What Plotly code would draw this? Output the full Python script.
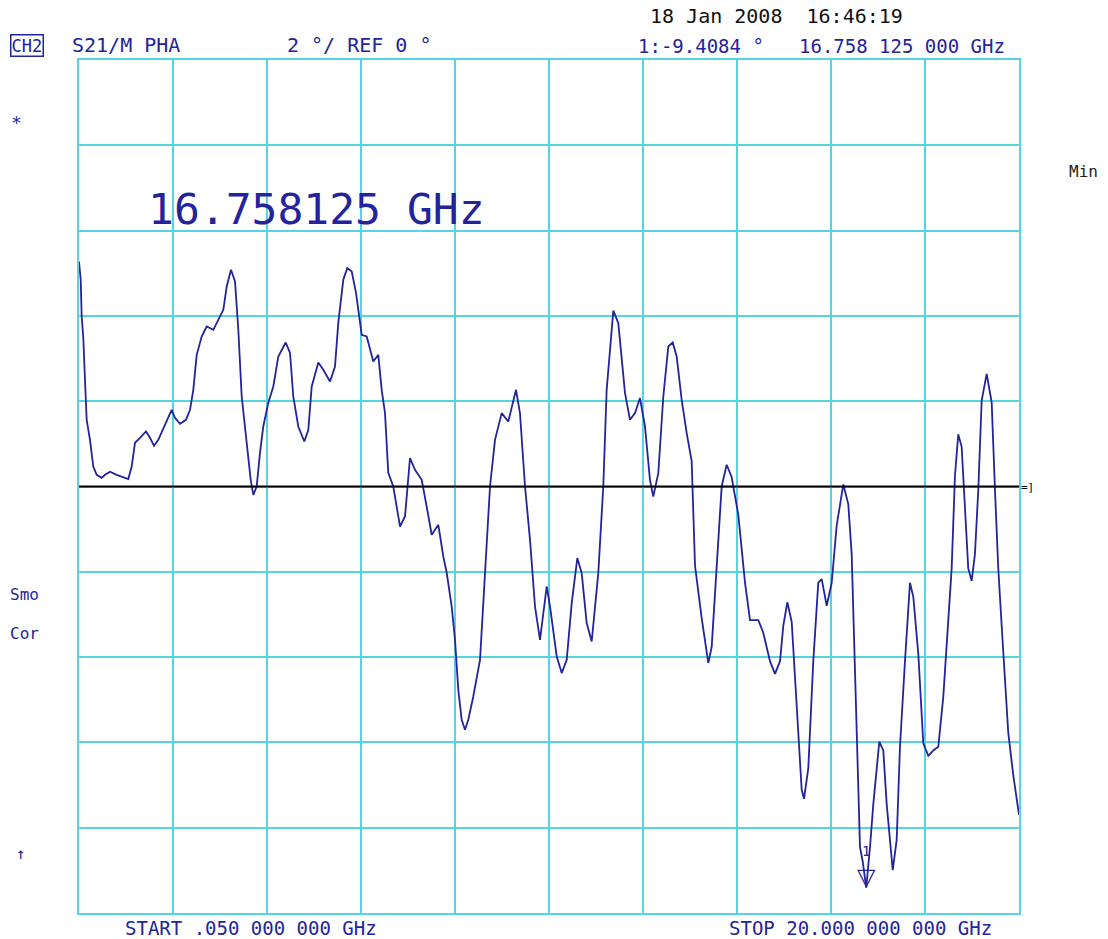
import plotly.graph_objects as go

# ---- data ----
freq_ghz = [0.050, 0.086, 0.107, 0.141, 0.177, 0.213, 0.283, 0.353, 0.426, 0.532,
            0.602, 0.708, 0.850, 0.956, 1.096, 1.168, 1.238, 1.345, 1.472, 1.557,
            1.642, 1.733, 1.875, 2.017, 2.087, 2.194, 2.321, 2.406, 2.476, 2.548,
            2.654, 2.760, 2.900, 3.006, 3.113, 3.185, 3.276, 3.361, 3.431, 3.503,
            3.609, 3.694, 3.749, 3.821, 3.891, 3.961, 4.068, 4.174, 4.280, 4.437,
            4.528, 4.598, 4.704, 4.832, 4.917, 4.989, 5.129, 5.235, 5.377, 5.483,
            5.553, 5.659, 5.744, 5.838, 5.929, 6.050, 6.156, 6.296, 6.402, 6.474,
            6.544, 6.614, 6.720, 6.863, 6.969, 7.075, 7.181, 7.323, 7.429, 7.535,
            7.676, 7.782, 7.854, 7.960, 8.030, 8.100, 8.172, 8.242, 8.312, 8.418,
            8.561, 8.667, 8.773, 8.879, 9.021, 9.161, 9.267, 9.325, 9.409, 9.516,
            9.622, 9.728, 9.834, 9.976, 10.047, 10.189, 10.295, 10.401, 10.507, 10.626,
            10.719, 10.825, 10.931, 11.071, 11.177, 11.249, 11.390, 11.496, 11.638, 11.744,
            11.850, 11.956, 12.062, 12.168, 12.238, 12.345, 12.451, 12.557, 12.650, 12.735,
            12.841, 12.947, 13.053, 13.124, 13.266, 13.406, 13.478, 13.548, 13.690, 13.796,
            13.902, 14.043, 14.185, 14.291, 14.467, 14.573, 14.715, 14.822, 14.928, 14.998,
            15.083, 15.176, 15.282, 15.388, 15.437, 15.528, 15.634, 15.740, 15.813, 15.919,
            16.025, 16.131, 16.271, 16.377, 16.449, 16.519, 16.589, 16.625, 16.682, 16.758,
            16.838, 16.908, 17.035, 17.120, 17.192, 17.262, 17.320, 17.404, 17.474, 17.580,
            17.686, 17.757, 17.863, 17.969, 18.075, 18.181, 18.287, 18.393, 18.465, 18.571,
            18.641, 18.711, 18.783, 18.853, 18.923, 18.995, 19.065, 19.136, 19.208, 19.314,
            19.420, 19.490, 19.560, 19.632, 19.702, 19.772, 19.879, 20.000]

phase_deg = [5.275, 4.846, 3.986, 3.487, 2.502, 1.564, 1.095, 0.469, 0.274, 0.204,
             0.274, 0.345, 0.274, 0.227, 0.174, 0.469, 1.025, 1.142, 1.290, 1.142,
             0.954, 1.095, 1.447, 1.798, 1.611, 1.470, 1.564, 1.798, 2.267, 3.088,
             3.517, 3.751, 3.674, 3.909, 4.143, 4.689, 5.081, 4.807, 3.674, 2.110,
             1.095, 0.157, -0.195, 0.000, 0.790, 1.407, 1.962, 2.345, 3.048, 3.376,
             3.135, 2.110, 1.407, 1.055, 1.329, 2.345, 2.907, 2.736, 2.462, 2.814,
             3.838, 4.846, 5.121, 5.041, 4.542, 3.557, 3.517, 2.931, 3.088, 2.267,
             1.728, 0.321, 0.000, -0.938, -0.703, 0.666, 0.392, 0.157, -0.469, -1.132,
             -0.898, -1.641, -2.023, -2.814, -3.594, -4.767, -5.470, -5.705, -5.470, -4.924,
             -4.063, -1.953, 0.000, 1.095, 1.721, 1.524, 2.033, 2.267, 1.721, 0.000,
             -1.250, -2.814, -3.594, -2.345, -2.814, -3.986, -4.375, -4.063, -2.734, -1.679,
             -2.030, -3.203, -3.634, -2.030, 0.000, 2.267, 4.127, 3.831, 2.190, 1.564,
             1.721, 2.073, 1.407, 0.157, -0.234, 0.314, 2.110, 3.283, 3.376, 3.048,
             2.033, 1.252, 0.593, -1.859, -3.093, -4.138, -3.758, -2.422, 0.007, 0.509,
             0.216, -0.664, -2.256, -3.135, -3.135, -3.428, -4.096, -4.392, -4.096, -3.259,
             -2.715, -3.172, -5.186, -7.111, -7.322, -6.610, -4.096, -2.256, -2.171, -2.797,
             -2.256, -0.914, 0.049, -0.413, -1.585, -4.096, -6.610, -8.448, -8.786, -9.408,
             -8.448, -7.447, -5.981, -6.190, -7.447, -8.284, -8.996, -8.284, -6.103, -4.096,
             -2.256, -2.586, -3.930, -6.023, -6.314, -6.190, -6.103, -4.931, -3.758, -1.920,
             0.258, 1.222, 0.931, -0.579, -1.920, -2.211, -1.585, -0.077, 2.016, 2.642,
             1.974, -0.077, -1.920, -3.259, -4.516, -5.773, -6.776, -7.698]

start_ghz = 0.05
stop_ghz = 20.0
scale_deg_per_div = 2
ref_deg = 0
n_div = 10
marker_freq = 16.758125
marker_val = -9.4084

# ---- styling ----
W, H = 1108, 939
L, R, T, B = 79, 89, 60, 26
BLUE = "#23239c"
GRID = "#55d5e4"
MONO = "DejaVu Sans Mono"

def px(xpix):
    return (xpix - L) / (W - L - R)

def py(ypix):
    return (H - B - ypix) / (H - T - B)

fig = go.Figure()
fig.add_trace(go.Scatter(x=freq_ghz, y=phase_deg, mode="lines",
                         line=dict(color=BLUE, width=1.8), hoverinfo="skip",
                         showlegend=False))

span = stop_ghz - start_ghz
fig.update_xaxes(range=[start_ghz, stop_ghz], tick0=start_ghz, dtick=span / n_div,
                 showgrid=True, gridcolor=GRID, gridwidth=2, showticklabels=False,
                 ticks="", zeroline=False, showline=True, linecolor=GRID,
                 linewidth=2, mirror=True)
half = scale_deg_per_div * n_div / 2
fig.update_yaxes(range=[ref_deg - half, ref_deg + half], tick0=ref_deg,
                 dtick=scale_deg_per_div, showgrid=True, gridcolor=GRID,
                 gridwidth=2, showticklabels=False, ticks="", zeroline=False,
                 showline=True, linecolor=GRID, linewidth=2, mirror=True)

# reference line
fig.add_shape(type="line", xref="paper", yref="y", x0=0, x1=1, y0=ref_deg,
              y1=ref_deg, line=dict(color="black", width=2), layer="above")

ann = []
def text(s, xpix, ypix, size=19, color=BLUE, anchor="left", **kw):
    ann.append(dict(text=s, xref="paper", yref="paper", x=px(xpix), y=py(ypix),
                    xanchor=anchor, yanchor="middle", showarrow=False,
                    font=dict(family=MONO, size=size, color=color), **kw))

NB = "\u00a0"
text("CH2", 10, 45, size=17, bordercolor=BLUE, borderwidth=1.5, borderpad=0)
text("S21/M" + NB + "PHA", 70, 45, size=20)
text("2" + NB + "°/" + NB + "REF" + NB + "0" + NB + "°", 285, 45, size=20)
text("18" + NB + "Jan" + NB + "2008" + NB * 2 + "16:46:19", 648, 16, size=20,
     color="#111111")
text("1:-9.4084" + NB + "°", 636, 46, size=19)
text("16.758" + NB + "125" + NB + "000" + NB + "GHz", 797, 46, size=19)
text("START" + NB + ".050" + NB + "000" + NB + "000" + NB + "GHz", 123, 928, size=19)
text("STOP" + NB + "20.000" + NB + "000" + NB + "000" + NB + "GHz", 727, 928, size=19)
text("*", 9, 122, size=18)
text("Min", 1067, 172, size=16, color="#222222")
text("Smo", 8, 594, size=16)
text("Cor", 8, 633, size=16)
text("↑", 14, 853, size=16)
text("16.758125" + NB + "GHz", 146, 209, size=43)
text("=]", 1019, 487, size=11, color="black")

# marker 1
ann.append(dict(text="▽", x=marker_freq, y=marker_val, xref="x", yref="y",
                showarrow=False, yanchor="bottom", yshift=-5,
                font=dict(family="DejaVu Sans", size=24, color=BLUE)))
ann.append(dict(text="1", x=marker_freq, y=marker_val, xref="x", yref="y",
                showarrow=False, yanchor="bottom", yshift=27,
                font=dict(family=MONO, size=14, color=BLUE)))

fig.update_layout(width=W, height=H, autosize=False,
                  margin=dict(l=L, r=R, t=T, b=B, pad=0),
                  plot_bgcolor="white", paper_bgcolor="white",
                  annotations=ann, showlegend=False)

fig.write_html("out.html", config={"displayModeBar": False},
               post_script="document.body.style.margin='0';")
